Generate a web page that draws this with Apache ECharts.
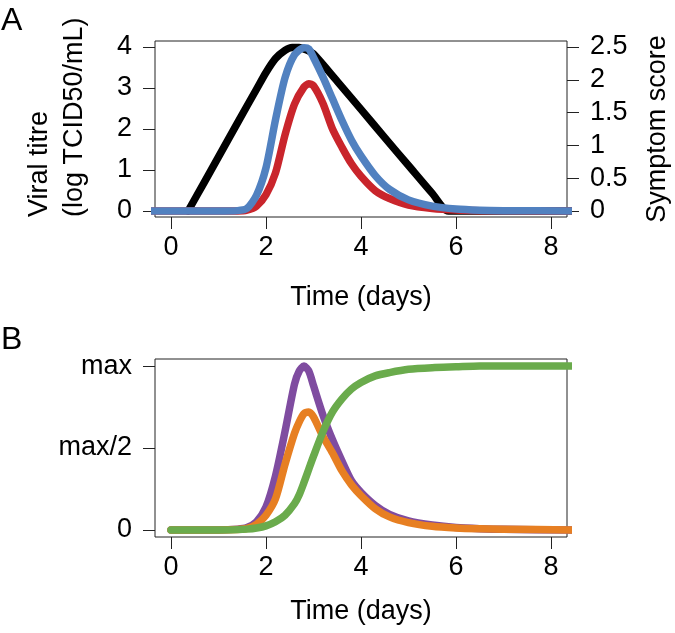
<!DOCTYPE html>
<html>
<head>
<meta charset="utf-8">
<script src="https://cdn.jsdelivr.net/npm/echarts@6/dist/echarts.min.js"></script>
<style>
html,body{margin:0;padding:0;background:#fff;}
#chart{width:675px;height:633px;}
</style>
</head>
<body>
<div id="chart"></div>
<script>
// ---------- Panel A data ----------
// Viral titre (log TCID50/mL), left axis
const titreTime  = [0.36, 0.7, 1.0, 1.4, 1.8, 2.0, 2.2, 2.4, 2.55, 2.7, 2.85, 3.0, 3.5, 4.0, 4.5, 5.0, 5.5, 5.84, 6.2, 8.5];
const titreValue = [0, 0.70, 1.32, 2.15, 2.97, 3.38, 3.72, 3.92, 3.99, 3.99, 3.93, 3.83, 3.16, 2.48, 1.79, 1.11, 0.43, 0, 0, 0];
// Symptom scores, right axis
const symptomTime = [-0.5, 0, 0.5, 1.0, 1.4, 1.6, 1.8, 2.0, 2.2, 2.4, 2.6, 2.8, 2.9, 3.0, 3.2, 3.4, 3.6, 3.8, 4.0, 4.3, 4.6, 5.0, 5.5, 6.0, 6.5, 7.0, 8.5];
const symptomRed  = [0, 0, 0, 0, 0, 0.012, 0.075, 0.25, 0.58, 1.16, 1.63, 1.89, 1.94, 1.91, 1.64, 1.25, 0.97, 0.72, 0.53, 0.31, 0.19, 0.09, 0.04, 0.016, 0.006, 0.003, 0];
const symptomBlue = [0, 0, 0, 0, 0.006, 0.04, 0.24, 0.66, 1.39, 2.03, 2.38, 2.49, 2.47, 2.34, 2.04, 1.71, 1.38, 1.08, 0.84, 0.54, 0.33, 0.17, 0.075, 0.03, 0.012, 0.006, 0];

// ---------- Panel B data (relative to max) ----------
const bTime   = [0, 0.5, 1.0, 1.4, 1.6, 1.8, 2.0, 2.2, 2.4, 2.6, 2.7, 2.8, 2.9, 3.0, 3.2, 3.4, 3.6, 3.8, 4.0, 4.3, 4.6, 5.0, 5.5, 6.0, 6.5, 7.0, 8.5];
const bPurple = [0, 0, 0, 0.005, 0.015, 0.05, 0.14, 0.33, 0.6, 0.89, 0.97, 1.0, 0.97, 0.88, 0.70, 0.55, 0.42, 0.30, 0.23, 0.15, 0.095, 0.055, 0.03, 0.015, 0.008, 0.004, 0];
const bOrange = [0, 0, 0, 0.003, 0.01, 0.035, 0.09, 0.19, 0.40, 0.59, 0.66, 0.71, 0.72, 0.69, 0.57, 0.47, 0.36, 0.275, 0.21, 0.13, 0.08, 0.045, 0.022, 0.012, 0.007, 0.004, 0];
const bGreen  = [0, 0, 0, 0.002, 0.005, 0.012, 0.025, 0.05, 0.09, 0.16, 0.215, 0.29, 0.37, 0.45, 0.60, 0.72, 0.80, 0.86, 0.90, 0.94, 0.96, 0.98, 0.99, 0.995, 1.0, 1.0, 1.0];

// ---------- Tick labels ----------
const xTicks = [0, 2, 4, 6, 8];
const titreTicks = [0, 1, 2, 3, 4];
const symptomTicks = [0, 0.5, 1, 1.5, 2, 2.5];
const bTicks = [0, 0.5, 1];
const bTickLabels = {0: '0', 0.5: 'max/2', 1: 'max'};

const FONT = 'Liberation Sans, Arial, Helvetica, sans-serif';
const pair = (xs, ys) => xs.map((x, i) => [x, ys[i]]);

const C = {
  black: '#000000', red: '#c9252c', blue: '#5181c0',
  purple: '#7f4ca0', orange: '#e77f22', green: '#6aab4c'
};

function xAxisDef(gridIndex) {
  return {
    type: 'value', gridIndex, min: -0.337, max: 8.337, position: 'bottom',
    axisLine: {show: false, onZero: false},
    axisTick: {show: true, inside: false, customValues: xTicks, length: 12, lineStyle: {color: '#222', width: 1}},
    axisLabel: {customValues: xTicks, fontSize: 27, margin: 17, color: '#000', fontFamily: FONT},
    splitLine: {show: false}
  };
}
function yAxisDef(gridIndex, min, max, ticks, position, fmt) {
  return {
    type: 'value', gridIndex, min, max, position,
    axisLine: {show: false, onZero: false},
    axisTick: {show: true, inside: false, customValues: ticks, length: 12, lineStyle: {color: '#222', width: 1}},
    axisLabel: {customValues: ticks, fontSize: 27, margin: 23, color: '#000', fontFamily: FONT, formatter: fmt},
    splitLine: {show: false}
  };
}
function lineSeries(xAxisIndex, yAxisIndex, data, color) {
  return {
    type: 'line', xAxisIndex, yAxisIndex, data, showSymbol: false, smooth: 0.25,
    clip: true, silent: true,
    lineStyle: {color, width: 7.5, cap: 'round', join: 'round'}
  };
}

const chart = echarts.init(document.getElementById('chart'), null, {renderer: 'canvas'});
chart.setOption({
  animation: false,
  backgroundColor: '#fff',
  grid: [
    {left: 155, top: 41, width: 412, height: 176, show: true, borderColor: '#222', borderWidth: 1, backgroundColor: 'transparent'},
    {left: 155, top: 359, width: 412, height: 178, show: true, borderColor: '#222', borderWidth: 1, backgroundColor: 'transparent'}
  ],
  xAxis: [xAxisDef(0), xAxisDef(1)],
  yAxis: [
    yAxisDef(0, -0.146, 4.146, titreTicks, 'left'),
    yAxisDef(0, -0.091, 2.591, symptomTicks, 'right'),
    yAxisDef(1, -0.043, 1.043, bTicks, 'left', v => bTickLabels[v])
  ],
  series: [
    lineSeries(0, 0, pair(titreTime, titreValue), C.black),
    lineSeries(0, 1, pair(symptomTime, symptomRed), C.red),
    lineSeries(0, 1, pair(symptomTime, symptomBlue), C.blue),
    lineSeries(1, 2, pair(bTime, bPurple), C.purple),
    lineSeries(1, 2, pair(bTime, bOrange), C.orange),
    lineSeries(1, 2, pair(bTime, bGreen), C.green)
  ],
  graphic: [
    {type: 'text', x: 1, y: 21, style: {text: 'A', font: '32px ' + FONT, fill: '#000', align: 'left', verticalAlign: 'middle'}},
    {type: 'text', x: 1, y: 340, style: {text: 'B', font: '32px ' + FONT, fill: '#000', align: 'left', verticalAlign: 'middle'}},
    {type: 'text', x: 40, y: 217, rotation: Math.PI / 2, style: {text: 'Viral titre', font: '27px ' + FONT, fill: '#000', align: 'left', verticalAlign: 'middle'}},
    {type: 'text', x: 75, y: 217, rotation: Math.PI / 2, style: {text: '(log TCID50/mL)', font: '27px ' + FONT, fill: '#000', align: 'left', verticalAlign: 'middle'}},
    {type: 'text', x: 658, y: 129, rotation: Math.PI / 2, style: {text: 'Symptom score', font: '27px ' + FONT, fill: '#000', align: 'center', verticalAlign: 'middle'}},
    {type: 'text', x: 361, y: 298, style: {text: 'Time (days)', font: '27px ' + FONT, fill: '#000', align: 'center', verticalAlign: 'middle'}},
    {type: 'text', x: 361, y: 612, style: {text: 'Time (days)', font: '27px ' + FONT, fill: '#000', align: 'center', verticalAlign: 'middle'}}
  ]
});
</script>
</body>
</html>
